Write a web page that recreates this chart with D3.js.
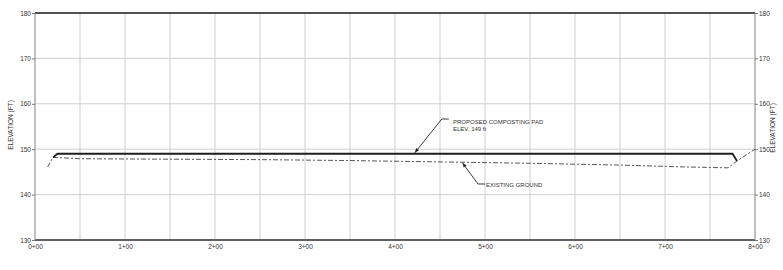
<!DOCTYPE html>
<html>
<head>
<meta charset="utf-8">
<script src="https://cdn.jsdelivr.net/npm/d3@7"></script>
<style>
	body { margin: 0; background: #fff; }
	text { font-family: "Liberation Sans", Arial, sans-serif; fill: #333; }
</style>
</head>
<body>
<div id="profile"></div>
<script>
// stations in ft (0+00 = 0), elevations in ft
var padStation = [20, 25, 775, 780];
var padElev = [148.2, 149, 149, 147.4];

var groundStation = [14, 20, 50, 150, 250, 350, 450, 550, 650, 720, 770, 780, 800];
var groundElev = [146.1, 148.2, 147.9, 147.8, 147.7, 147.5, 147.2, 146.9, 146.5, 146.1, 145.9, 147.4, 150];

var elevTicks = [130, 140, 150, 160, 170, 180];
var stationTicks = [0, 100, 200, 300, 400, 500, 600, 700, 800];
var stationLabels = ["0+00", "1+00", "2+00", "3+00", "4+00", "5+00", "6+00", "7+00", "8+00"];
var gridStations = d3.range(0, 801, 50);

var w = 783, h = 270;

var svg = d3.select("#profile").append("svg")
	.attr("width", w)
	.attr("height", h)

var x = d3.scaleLinear()
	.domain([0, 800])
	.range([35, 755])

var y = d3.scaleLinear()
	.domain([130, 180])
	.range([240, 13])

// grid
svg.selectAll(".vgrid")
	.data(gridStations)
	.enter()
	.append("line")
	.attr("x1", function(d) { return x(d) })
	.attr("x2", function(d) { return x(d) })
	.attr("y1", y(130))
	.attr("y2", y(180))
	.style("stroke", "#cfcfcf")
	.style("stroke-width", 1)

svg.selectAll(".hgrid")
	.data(elevTicks)
	.enter()
	.append("line")
	.attr("x1", x(0))
	.attr("x2", x(800))
	.attr("y1", function(d) { return y(d) })
	.attr("y2", function(d) { return y(d) })
	.style("stroke", "#cfcfcf")
	.style("stroke-width", 1)

// frame
svg.append("line")
	.attr("x1", x(0)).attr("x2", x(800))
	.attr("y1", y(180)).attr("y2", y(180))
	.style("stroke", "#222").style("stroke-width", 1.5)
svg.append("line")
	.attr("x1", x(0)).attr("x2", x(800))
	.attr("y1", y(130)).attr("y2", y(130))
	.style("stroke", "#333").style("stroke-width", 1.5)
svg.append("line")
	.attr("x1", x(0)).attr("x2", x(0))
	.attr("y1", y(130)).attr("y2", y(180))
	.style("stroke", "#999").style("stroke-width", 1)
svg.append("line")
	.attr("x1", x(800)).attr("x2", x(800))
	.attr("y1", y(130)).attr("y2", y(180))
	.style("stroke", "#999").style("stroke-width", 1)

// axes
var yLeft = d3.axisLeft(y).tickValues(elevTicks).tickSize(3).tickPadding(1);
var yRight = d3.axisRight(y).tickValues(elevTicks).tickSize(3).tickPadding(1);
var xAxis = d3.axisBottom(x).tickValues(stationTicks).tickSize(0).tickPadding(4)
	.tickFormat(function(d, i) { return stationLabels[i] });

function styleAxis(g) {
	g.select(".domain").remove();
	g.selectAll("line").style("stroke", "#777");
	g.selectAll("text").style("font-size", "6.5px").style("fill", "#333")
		.style("font-family", "Liberation Sans, Arial, sans-serif");
}

svg.append("g")
	.attr("transform", "translate(" + x(0) + ",0)")
	.call(yLeft)
	.call(styleAxis)

svg.append("g")
	.attr("transform", "translate(" + x(800) + ",0)")
	.call(yRight)
	.call(styleAxis)

svg.append("g")
	.attr("transform", "translate(0," + y(130) + ")")
	.call(xAxis)
	.call(styleAxis)

svg.append("text")
	.text("ELEVATION (FT)")
	.attr("transform", "translate(13,125) rotate(-90)")
	.style("font-size", "6.5px")
	.style("text-anchor", "middle")

svg.append("text")
	.text("ELEVATION (FT)")
	.attr("transform", "translate(775,128) rotate(-90)")
	.style("font-size", "6.5px")
	.style("text-anchor", "middle")

// profiles
var line = d3.line()
	.x(function(d) { return x(d[0]) })
	.y(function(d) { return y(d[1]) });

svg.append("path")
	.datum(d3.zip(groundStation, groundElev))
	.attr("d", line)
	.style("fill", "none")
	.style("stroke", "#444")
	.style("stroke-width", 0.9)
	.style("stroke-dasharray", "5,2,2,2")

svg.append("path")
	.datum(d3.zip(padStation, padElev))
	.attr("d", line)
	.style("fill", "none")
	.style("stroke", "#1e1e1e")
	.style("stroke-width", 1.8)

// leaders
svg.append("defs").append("marker")
	.attr("id", "arrow")
	.attr("viewBox", "0 0 10 10")
	.attr("refX", 10)
	.attr("refY", 5)
	.attr("markerWidth", 6)
	.attr("markerHeight", 5)
	.attr("orient", "auto")
	.append("path")
	.attr("d", "M0,1 L10,5 L0,9 Z")
	.style("fill", "#222")

var padTip = [422, 149];
svg.append("path")
	.attr("d", "M" + (x(padTip[0]) + 34) + "," + 119 + " L" + (x(padTip[0]) + 27) + "," + 119
		+ " L" + x(padTip[0]) + "," + (y(padTip[1]) - 1))
	.style("fill", "none")
	.style("stroke", "#222")
	.style("stroke-width", 0.9)
	.attr("marker-end", "url(#arrow)")

svg.append("text")
	.text("PROPOSED COMPOSTING PAD")
	.attr("x", 453)
	.attr("y", 124)
	.style("font-size", "6px")

svg.append("text")
	.text("ELEV.  149 ft")
	.attr("x", 453)
	.attr("y", 131)
	.style("font-size", "6px")

var groundTip = [475, 147.2];
svg.append("path")
	.attr("d", "M" + 485 + "," + 184 + " L" + 478 + "," + 184
		+ " L" + x(groundTip[0]) + "," + (y(groundTip[1]) + 1))
	.style("fill", "none")
	.style("stroke", "#222")
	.style("stroke-width", 0.9)
	.attr("marker-end", "url(#arrow)")

svg.append("text")
	.text("EXISTING GROUND")
	.attr("x", 486)
	.attr("y", 186.5)
	.style("font-size", "6px")
</script>
</body>
</html>
